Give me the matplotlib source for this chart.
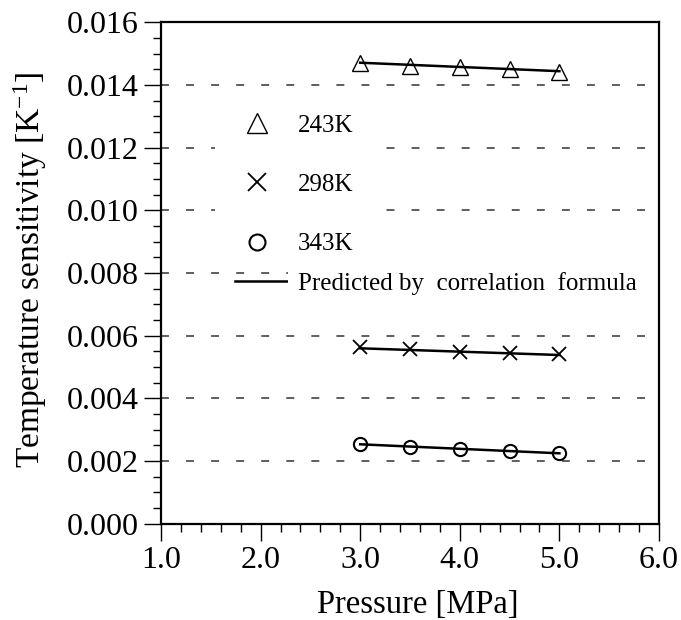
import matplotlib
matplotlib.use("Agg")
import matplotlib.pyplot as plt
from matplotlib.lines import Line2D
from matplotlib.patches import Rectangle
from matplotlib.ticker import MultipleLocator, FormatStrFormatter

plt.rcParams['font.family'] = ['Liberation Serif', 'DejaVu Serif']
plt.rcParams['mathtext.fontset'] = 'custom'
plt.rcParams['mathtext.rm'] = 'Liberation Serif'

pressure = [3.0, 3.5, 4.0, 4.5, 5.0]
meas_243 = [0.01469, 0.01460, 0.01456, 0.01450, 0.01441]
meas_298 = [0.005629, 0.005565, 0.005488, 0.005456, 0.005405]
meas_343 = [0.002543, 0.002457, 0.002384, 0.002320, 0.002265]
pred_243 = [0.01471, 0.014643, 0.014575, 0.014508, 0.01444]
pred_298 = [0.005597, 0.005544, 0.005490, 0.005437, 0.005383]
pred_343 = [0.002534, 0.002462, 0.002390, 0.002318, 0.002246]
labels = ['243K', '298K', '343K']
pred_label = 'Predicted by  correlation  formula'

W, H = 681, 620
AX_L, AX_R, AX_T, AX_B = 161, 659, 22.3, 523.7

def ax_x(px):
    return (px - AX_L) / (AX_R - AX_L)

def ax_y(py):
    return (AX_B - py) / (AX_B - AX_T)

fig = plt.figure(figsize=(W / 100, H / 100), dpi=100)
ax = fig.add_axes([AX_L / W, 1 - AX_B / H, (AX_R - AX_L) / W, (AX_B - AX_T) / H])

ax.set_xlim(1.0, 6.0)
ax.set_ylim(0.0, 0.016)

# dashed horizontal grid
for yv in [0.002, 0.004, 0.006, 0.008, 0.010, 0.012, 0.014]:
    ax.axhline(yv, color='#333333', lw=1.1, dashes=(5.2, 11.2), zorder=1)

# white area behind the marker legend
ax.add_patch(Rectangle((ax_x(215), ax_y(262)), ax_x(385) - ax_x(215), ax_y(92) - ax_y(262),
                       transform=ax.transAxes, facecolor='white', edgecolor='none', zorder=1.5))

for pred in (pred_243, pred_298, pred_343):
    ax.plot(pressure, pred, color='black', lw=1.8, zorder=3)

ax.plot(pressure, meas_243, ls='none', marker='^', ms=12, mfc='none', mec='black', mew=1.0, zorder=4)
ax.plot(pressure, meas_298, ls='none', marker='x', ms=10, mec='black', mew=1.3, zorder=4)
ax.plot(pressure, meas_343, ls='none', marker='o', ms=9.5, mfc='none', mec='black', mew=1.5, zorder=4)

ax.xaxis.set_major_locator(MultipleLocator(1.0))
ax.xaxis.set_minor_locator(MultipleLocator(0.2))
ax.yaxis.set_major_locator(MultipleLocator(0.002))
ax.yaxis.set_minor_locator(MultipleLocator(0.0005))
ax.xaxis.set_major_formatter(FormatStrFormatter('%.1f'))
ax.yaxis.set_major_formatter(FormatStrFormatter('%.3f'))
ax.tick_params(which='major', direction='out', length=12, width=1.0, labelsize=23, pad=4)
ax.tick_params(which='minor', direction='out', length=6, width=1.0)
ax.tick_params(top=False, right=False)
for s in ax.spines.values():
    s.set_linewidth(1.6)

ax.set_xlabel('Pressure [MPa]', fontsize=23.5)
ax.xaxis.set_label_coords(ax_x(418), ax_y(589))
ax.set_ylabel('Temperature sensitivity [K$\\mathregular{^{-1}}$]', fontsize=24)
ax.yaxis.set_label_coords(ax_x(49), ax_y(270))

h1 = [Line2D([], [], ls='none', marker='^', ms=14, mfc='none', mec='black', mew=1.0),
      Line2D([], [], ls='none', marker='x', ms=13, mec='black', mew=1.3),
      Line2D([], [], ls='none', marker='o', ms=11.5, mfc='none', mec='black', mew=1.5)]
leg1 = ax.legend(h1, labels, loc='upper left', bbox_to_anchor=(ax_x(227), ax_y(104)),
                 fontsize=18, frameon=False, borderpad=0.4, handlelength=1.6,
                 handletextpad=0.84, labelspacing=1.48, borderaxespad=0)
ax.add_artist(leg1)

h2 = [Line2D([], [], color='black', lw=1.8)]
leg2 = ax.legend(h2, [pred_label], loc='upper left', bbox_to_anchor=(ax_x(230), ax_y(267)),
                 fontsize=18, frameon=False, handlelength=2.08, handletextpad=0.44,
                 borderpad=0.2, borderaxespad=0)
for t in leg2.get_texts():
    t.set_bbox(dict(facecolor='white', edgecolor='none', pad=7))

fig.savefig('out.png', dpi=100)
